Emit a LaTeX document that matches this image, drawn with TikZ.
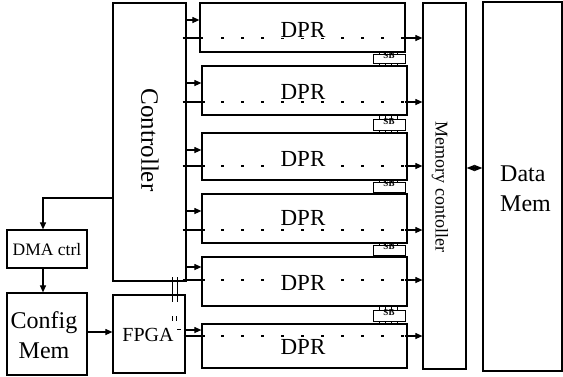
\documentclass[tikz,border=0pt]{standalone}
\usepackage{fontspec}
\setmainfont{Liberation Serif}
\usetikzlibrary{arrows.meta,fit,calc}
\begin{document}
\begin{tikzpicture}[x=1pt,y=-1pt,
  box/.style={draw, line width=1.2pt, inner sep=0pt, rectangle},
  tip/.style={line width=1.1pt, -{Triangle[length=7pt,width=6pt]}},
  plain/.style={line width=1.1pt},
  dots/.style={line width=1.3pt, dash pattern=on 3pt off 17pt},
  dpr/.style={font=\fontsize{23}{23}\selectfont, fill=white, inner sep=0.5pt},
  sbbox/.style={draw, line width=0.9pt, fill=white, inner sep=0pt, font=\fontsize{9}{9}\selectfont\bfseries},
  tick/.style={line width=0.7pt},
]
\useasboundingbox (0,0) rectangle (563,376);

% main blocks
\node[box, fit={(113,3) (186,281)}] (ctrl) {};
\node[rotate=-90, font=\fontsize{25}{25}\selectfont] (ctrltxt) at (150,140) {Controller};
\node[box, fit={(7,230) (87,268)}] (dma) {};
\node[font=\fontsize{17.5}{17.5}\selectfont, inner sep=0pt] (dmatxt) at (47,250) {DMA ctrl};
\node[box, fit={(7,293) (87,375)}] (cfg) {};
\node[align=center, inner sep=0pt, font=\fontsize{24}{30}\selectfont] (cfgtxt) at (44,335) {Config\\Mem};
\node[box, fit={(113,295) (185,373)}] (fpga) {};
\node[font=\fontsize{20}{20}\selectfont, inner sep=0pt] (fpgatxt) at (148,335) {FPGA};
\node[box, fit={(423,3) (466,369)}] (mc) {};
\node[rotate=-90, font=\fontsize{18}{18}\selectfont] (mctxt) at (440,187) {Memory contoller};
\node[box, fit={(483,2) (562,371)}] (dm) {};
\node[anchor=west, inner sep=0pt, align=left, font=\fontsize{24}{30}\selectfont] (dmtxt) at (500,189) {Data\\Mem};

% SB ticks and boxes
\foreach \j/\t/\b/\pt/\nb in {1/54/63/52/66, 2/119/130/115/133, 3/182/192/180/194, 4/245/255/243/257, 5/310/321/306/324}{
  \foreach \x in {379,385,391,397} \draw[tick] (\x,\pt) -- (\x,\nb);
  \node[sbbox, fit={(373,\t) (405,\b)}] (sb\j) {SB};
}

% DPR blocks
\foreach \i/\l/\t/\r/\b/\ty/\ay/\ly in {1/200/3/405/52/30/20/38, 2/202/66/407/115/92/83/102, 3/202/133/407/180/159/150/166, 4/202/194/407/243/218/211/230, 5/202/257/407/306/283/267/280, 6/202/324/407/368/347/330/336}{
  \node[box, fit={(\l,\t) (\r,\b)}] (d\i) {};
  \coordinate (a\i) at (0,\ay);
  \coordinate (l\i) at (0,\ly);
  \draw[dots] (221,\ly) -- (404,\ly);
  \node[dpr] (dt\i) at (303,\ty) {DPR};
  \draw[tip] ($(d\i.east |- l\i)+(-3,0)$) -- (mc.west |- l\i);
}

% controller to DPRs
\foreach \i in {1,...,5}{
  \draw[tip] (ctrl.east |- a\i) -- (d\i.west |- a\i);
  \draw[plain] ($(ctrl.east |- l\i)+(-4,0)$) -- ($(d\i.west |- l\i)+(4,0)$);
}
% FPGA to DPR6
\draw[tip] (fpga.east |- a6) -- (d6.west |- a6);
\draw[plain] ($(fpga.east |- l6)+(-2,0)$) -- ($(d6.west |- l6)+(4,0)$);

% controller / DMA / config / FPGA
\coordinate (k) at (43,198);
\draw[tip] (ctrl.west |- k) -- (k) -- (k |- dma.north);
\draw[tip] (k |- dma.south) -- (k |- cfg.north);
\coordinate (m) at (0,332);
\draw[tip] (cfg.east |- m) -- (fpga.west |- m);

% links controller - FPGA
\draw[line width=0.9pt] (172,277) -- (172,302) (177,277) -- (177,302);
\draw[tick] (172,316) -- (172,321) (176,316) -- (176,321) (177,329) -- (181,329);

% memory controller <-> data mem
\coordinate (dmy) at (0,168);
\draw[line width=1.1pt, {Triangle[length=8pt,width=6pt]}-{Triangle[length=8pt,width=6pt]}] (mc.east |- dmy) -- (dm.west |- dmy);
\end{tikzpicture}
\end{document}
